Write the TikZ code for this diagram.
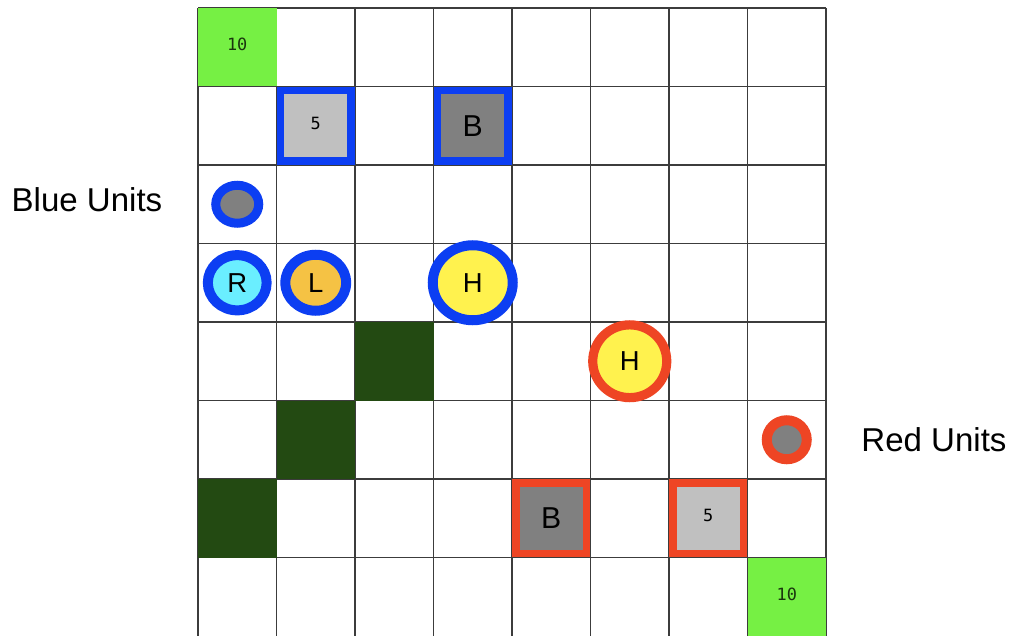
\documentclass[tikz,border=0pt]{standalone}
\usepackage{fontspec}
\setmainfont{Liberation Sans}
\newfontfamily\monofont{DejaVu Sans Mono}
\usepackage{tikz}
\usetikzlibrary{shapes.geometric,positioning}

\definecolor{goalgreen}{HTML}{76F044}
\definecolor{goaltext}{HTML}{1A360E}
\definecolor{wallgreen}{HTML}{234A12}
\definecolor{blueteam}{HTML}{0C3EF2}
\definecolor{redteam}{HTML}{EE4524}
\definecolor{tilelight}{HTML}{C0C0C0}
\definecolor{tiledark}{HTML}{808080}
\definecolor{unitcyan}{HTML}{6AEEFF}
\definecolor{unitorange}{HTML}{F5C244}
\definecolor{unityellow}{HTML}{FFF24E}
\definecolor{gridgray}{HTML}{3C3C3C}

\begin{document}
\begin{tikzpicture}[x=1.9625cm, y=-1.9625cm,
        every node/.style={font=\fontsize{19.5}{21}\selectfont},
        gridline/.style={draw=gridgray, line width=0.03cm},
        tile/.style={rectangle, draw=none, minimum size=1.9625cm, inner sep=0pt},
        goal/.style={tile, fill=goalgreen, text=goaltext, font=\monofont\fontsize{12}{12}\selectfont},
        wall/.style={tile, fill=wallgreen},
        depot/.style={rectangle, line width=0.19cm, minimum size=1.77cm, inner sep=0pt},
        supply/.style={depot, fill=tilelight, font=\monofont\fontsize{12}{12}\selectfont},
        hq/.style={depot, fill=tiledark, font=\fontsize{21.5}{22}\selectfont},
        unit/.style={ellipse, line width=0.25cm, inner sep=0pt},
        scout/.style={unit, fill=tiledark, minimum width=1.0cm, minimum height=0.95cm},
        heavy/.style={unit, fill=unityellow},
        teamlabel/.style={font=\fontsize{23.5}{25}\selectfont},
    ]
    \useasboundingbox (-3.0223,-0.6019) rectangle (9.8949,7.4873);

    % board
    \foreach \i in {0,...,8}
        \draw[gridline] (\i-0.5,-0.5) -- (\i-0.5,7.5);
    \foreach \i in {0,...,7}
        \draw[gridline] (-0.5,\i-0.5) -- (7.5,\i-0.5);
    \node[goal] (goalB) at (0,0) {\raisebox{4pt}{10}};
    \node[goal] (goalR) at (7,7) {\raisebox{4pt}{10}};
    \foreach \c/\r in {2/4,1/5,0/6}
        \node[wall] (wall\c) at (\c,\r) {};

    % blue side
    \node[supply, draw=blueteam] (supplyB) at (1,1) {\raisebox{4pt}{5}};
    \node[hq, draw=blueteam] (hqB) at (3,1) {B};
    \node[scout, draw=blueteam, line width=0.225cm, minimum width=1.075cm] (scoutB) at (0,2) {};
    \node[unit, draw=blueteam, fill=unitcyan, minimum width=1.47cm, minimum height=1.38cm] (rangerB) at (0,3) {R};
    \node[unit, draw=blueteam, fill=unitorange, minimum width=1.52cm, minimum height=1.4cm] (lightB) at (1,3) {L};
    \node[heavy, draw=blueteam, minimum width=2.0cm, minimum height=1.875cm] (heavyB) at (3,3) {H};

    % red side
    \node[heavy, draw=redteam, line width=0.23cm, minimum width=1.85cm, minimum height=1.82cm] (heavyR) at (5,4) {H};
    \node[scout, draw=redteam, minimum width=1.0cm, minimum height=0.975cm] (scoutR) at (7,5) {};
    \node[hq, draw=redteam] (hqR) at (4,6) {B};
    \node[supply, draw=redteam] (supplyR) at (6,6) {\raisebox{4pt}{5}};

    \node[teamlabel] (blueLabel) at (-1.914,1.94) {Blue Units};
    \node[teamlabel] (redLabel) at (8.876,5.0) {Red Units};
\end{tikzpicture}
\end{document}
